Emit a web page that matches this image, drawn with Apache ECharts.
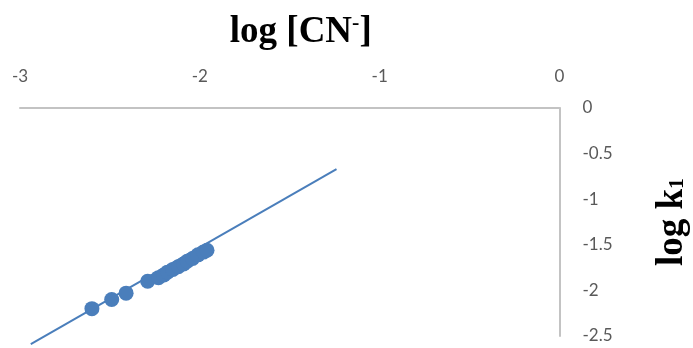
<!DOCTYPE html>
<html>
<head>
<meta charset="utf-8">
<script src="https://cdn.jsdelivr.net/npm/echarts@6/dist/echarts.min.js"></script>
<style>
  html, body { margin: 0; padding: 0; background: #ffffff; }
  #chart { width: 693px; height: 348px; }
</style>
</head>
<body>
<div id="chart"></div>
<script>
// log [CN-] values and the matching log k1 values
const logCN = [-2.60, -2.49, -2.41, -2.29, -2.23, -2.20, -2.18, -2.15, -2.12, -2.09, -2.07, -2.04, -2.01, -1.98, -1.96];
const logK1 = [-2.20, -2.10, -2.03, -1.90, -1.86, -1.83, -1.80, -1.77, -1.74, -1.71, -1.68, -1.65, -1.61, -1.58, -1.56];

// Linear trendline end points
const trendX = [-2.94, -1.24];
const trendY = [-2.59, -0.67];

const xTicks = [-3, -2, -1, 0];
const yTicks = [0, -0.5, -1, -1.5, -2, -2.5];

const blue = '#4a7ebb';
const axisGrey = '#c3c3c3';
const labelGrey = '#595959';

const points = logCN.map((x, i) => [x, logK1[i]]);
const trend = trendX.map((x, i) => [x, trendY[i]]);

const chart = echarts.init(document.getElementById('chart'), null, { renderer: 'canvas' });
chart.setOption({
  animation: false,
  backgroundColor: '#ffffff',
  grid: {
    left: 20, right: 133.5, top: 108, bottom: 12,
    containLabel: false,
    outerBoundsMode: 'none'
  },
  xAxis: {
    type: 'value',
    position: 'top',
    min: xTicks[0],
    max: xTicks[xTicks.length - 1],
    interval: 1,
    name: '{a|log [CN}{s|-}{a|]}',
    nameLocation: 'middle',
    nameGap: 56,
    nameTextStyle: {
      padding: [0, 0, 0, 22],
      rich: {
        a: { fontFamily: 'Liberation Serif', fontWeight: 'bold', fontSize: 37, color: '#000' },
        s: { fontFamily: 'Liberation Serif', fontWeight: 'bold', fontSize: 22, color: '#000', padding: [0, 0, 18, 0] }
      }
    },
    axisLine: { onZero: false, lineStyle: { color: axisGrey, width: 2 } },
    axisTick: { show: false },
    splitLine: { show: false },
    axisLabel: { margin: 23, color: labelGrey, fontFamily: 'Lato', fontSize: 17 }
  },
  yAxis: {
    type: 'value',
    position: 'right',
    min: yTicks[yTicks.length - 1],
    max: yTicks[0],
    interval: 0.5,
    name: '{a|log k}{s|1}',
    nameLocation: 'middle',
    nameGap: 94,
    nameRotate: 90,
    nameTextStyle: {
      rich: {
        a: { fontFamily: 'Liberation Serif', fontWeight: 'bold', fontSize: 37, color: '#000' },
        s: { fontFamily: 'Liberation Serif', fontWeight: 'bold', fontSize: 22, color: '#000', padding: [10, 0, 0, 0] }
      }
    },
    axisLine: { onZero: false, lineStyle: { color: axisGrey, width: 2 } },
    axisTick: { show: false },
    splitLine: { show: false },
    axisLabel: {
      margin: 23,
      color: labelGrey,
      fontFamily: 'Lato',
      fontSize: 17,
      verticalAlign: 'middle',
      padding: [12, 0, 0, 0]
    }
  },
  series: [
    {
      type: 'line',
      data: trend,
      clip: false,
      symbol: 'none',
      lineStyle: { color: blue, width: 2 },
      z: 2
    },
    {
      type: 'scatter',
      data: points,
      symbol: 'circle',
      symbolSize: 15,
      itemStyle: { color: blue, opacity: 1 },
      z: 3
    }
  ]
});
</script>
</body>
</html>
